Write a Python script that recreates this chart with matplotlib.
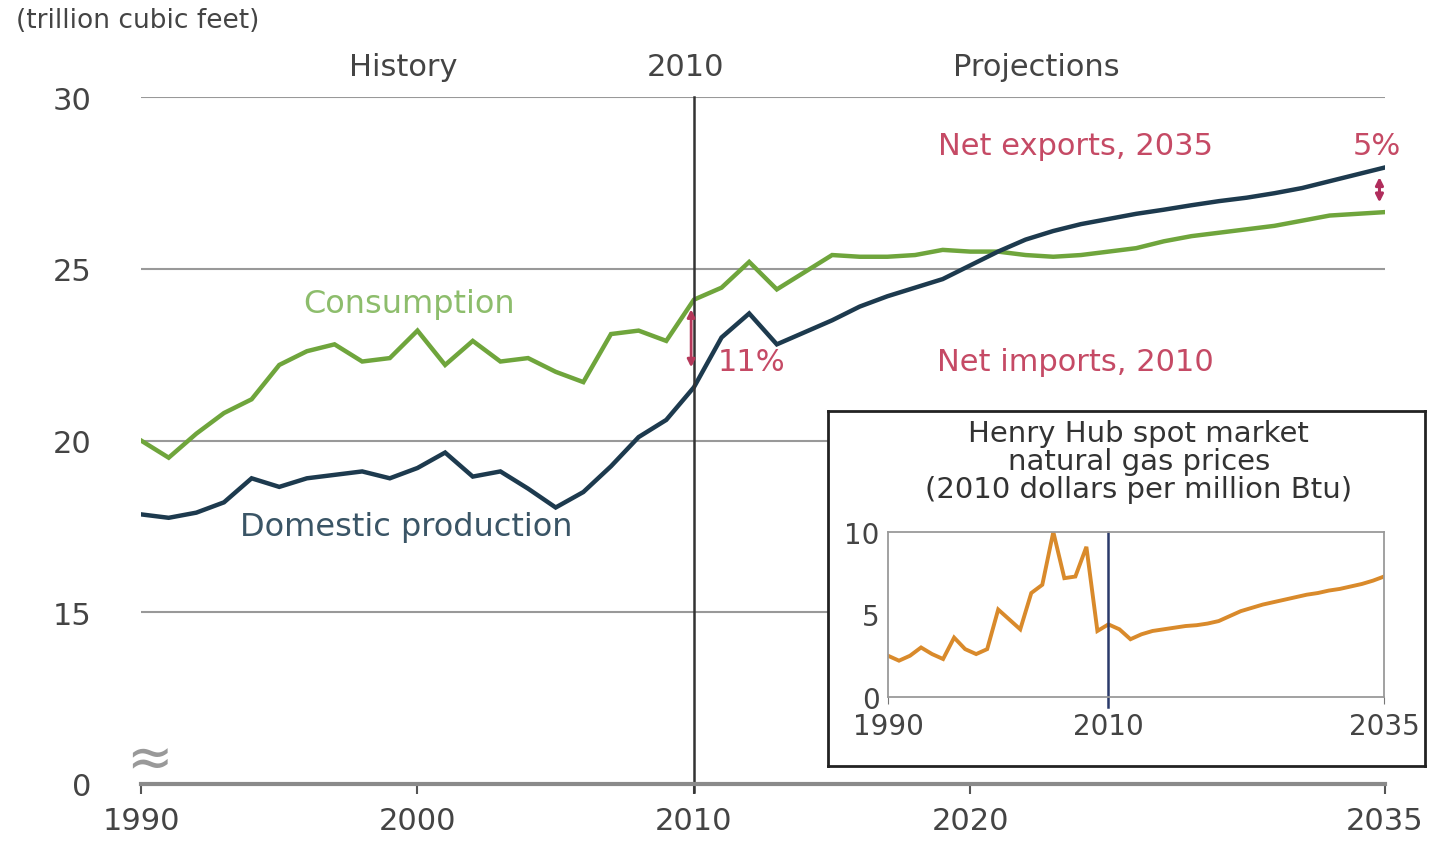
import matplotlib.pyplot as plt

# Datos (trillion cubic feet)
years = list(range(1990, 2036))
consumption = [20.0, 19.5, 20.2, 20.8, 21.2, 22.2, 22.6, 22.8, 22.3, 22.4,
               23.2, 22.2, 22.9, 22.3, 22.4, 22.0, 21.7, 23.1, 23.2, 22.9,
               24.1, 24.45, 25.2, 24.4, 24.9, 25.4, 25.35, 25.35, 25.4, 25.55,
               25.5, 25.5, 25.4, 25.35, 25.4, 25.5, 25.6, 25.8, 25.95, 26.05,
               26.15, 26.25, 26.4, 26.55, 26.6, 26.65]
production = [17.85, 17.75, 17.9, 18.2, 18.9, 18.65, 18.9, 19.0, 19.1, 18.9,
              19.2, 19.65, 18.95, 19.1, 18.6, 18.05, 18.5, 19.25, 20.1, 20.6,
              21.55, 23.0, 23.7, 22.8, 23.15, 23.5, 23.9, 24.2, 24.45, 24.7,
              25.1, 25.5, 25.85, 26.1, 26.3, 26.45, 26.6, 26.72, 26.85, 26.97,
              27.07, 27.2, 27.35, 27.55, 27.75, 27.95]
# Henry Hub (2010 dollars per million Btu)
price = [2.5, 2.2, 2.5, 3.0, 2.6, 2.3, 3.6, 2.9, 2.6, 2.9,
         5.3, 4.7, 4.1, 6.3, 6.8, 10.0, 7.2, 7.3, 9.1, 4.0,
         4.4, 4.1, 3.5, 3.8, 4.0, 4.1, 4.2, 4.3, 4.35, 4.45,
         4.6, 4.9, 5.2, 5.4, 5.6, 5.75, 5.9, 6.05, 6.2, 6.3,
         6.45, 6.55, 6.7, 6.85, 7.05, 7.3]
x_ticks = [1990, 2000, 2010, 2020, 2035]
y_ticks = [10, 15, 20, 25, 30]
y_labels = ["0", "15", "20", "25", "30"]
inset_x_ticks = [1990, 2010, 2035]
inset_y_ticks = [0, 5, 10]

verde = "#6fa53c"
azul = "#1d3a4e"
rojo = "#c54a65"
naranja = "#d98a2b"
gris = "#999999"

fig = plt.figure(figsize=(14.29, 8.54), dpi=100)
ax = fig.add_axes([0.0987, 0.0808, 0.8705, 0.8044])

# Líneas principales
ax.plot(years, consumption, color=verde, lw=3.2, solid_joinstyle="miter")
ax.plot(years, production, color=azul, lw=3.2, solid_joinstyle="miter")
ax.axvline(2010, color="#333333", lw=1.8, ymin=-0.012, clip_on=False)

ax.set_xlim(1990, 2035)
ax.set_ylim(10, 30)
ax.set_yticks(y_ticks)
ax.set_yticklabels(y_labels)
ax.set_xticks(x_ticks)
for y in y_ticks[1:]:
    ax.axhline(y, color=gris, lw=1.5, zorder=0)
for s in ["top", "right", "left"]:
    ax.spines[s].set_visible(False)
ax.spines["bottom"].set_color("#8a8a8a")
ax.spines["bottom"].set_linewidth(3)
ax.tick_params(axis="y", length=0, pad=36, labelsize=22, labelcolor="#444444")
ax.tick_params(axis="x", length=7, width=1.5, color="#555555", pad=9,
               labelsize=22, labelcolor="#444444")

# Símbolo de eje cortado
ax.text(1990.3, 10.7, "≈", fontsize=40, color="#999999", ha="center", va="center",
        clip_on=False)

# Encabezados
ax.text(1999.5, 30.9, "History", fontsize=22, color="#444444", ha="center", va="center")
ax.text(2009.7, 30.9, "2010", fontsize=22, color="#444444", ha="center", va="center")
ax.text(2022.4, 30.9, "Projections", fontsize=22, color="#444444", ha="center", va="center")
fig.text(0.011, 0.975, "(trillion cubic feet)", fontsize=19, color="#444444",
         ha="left", va="center")

# Etiquetas de series
ax.text(1999.7, 24.0, "Consumption", fontsize=23, color="#8dbd6c", ha="center", va="center")
ax.text(1999.6, 17.5, "Domestic production", fontsize=23, color="#3a5566",
        ha="center", va="center")

# Flechas de importaciones / exportaciones netas
i10 = years.index(2010)
i35 = years.index(2035)
ax.annotate("", xy=(2009.9, production[i10] + 0.5), xytext=(2009.9, consumption[i10] - 0.2),
            arrowprops=dict(arrowstyle="<|-|>", color="#b5385a", lw=2, mutation_scale=11))
ax.annotate("", xy=(2034.8, production[i35] - 0.2), xytext=(2034.8, consumption[i35] + 0.2),
            arrowprops=dict(arrowstyle="<|-|>", color="#b02d5c", lw=2.2, mutation_scale=11))
ax.text(2023.8, 28.6, "Net exports, 2035", fontsize=22, color=rojo, ha="center", va="center")
ax.text(2034.7, 28.6, "5%", fontsize=22, color=rojo, ha="center", va="center")
ax.text(2023.8, 22.3, "Net imports, 2010", fontsize=22, color=rojo, ha="center", va="center")
ax.text(2010.85, 22.3, "11%", fontsize=22, color=rojo, ha="left", va="center")

# Recuadro del gráfico insertado
caja = fig.add_axes([0.5794, 0.1019, 0.4178, 0.4157])
caja.set_xticks([])
caja.set_yticks([])
for s in caja.spines.values():
    s.set_color("#222222")
    s.set_linewidth(2)
caja.set_facecolor("white")
fig.text(0.797, 0.459, "Henry Hub spot market\nnatural gas prices\n(2010 dollars per million Btu)",
         fontsize=21, color="#333333", ha="center", va="center", linespacing=0.98)

ins = fig.add_axes([0.6214, 0.1827, 0.3471, 0.1932])
ins.plot(years, price, color=naranja, lw=2.8, solid_joinstyle="miter")
ins.axvline(2010, color="#2b3a6b", lw=1.8, ymin=-0.06, clip_on=False)
ins.set_xlim(1990, 2035)
ins.set_ylim(0, 10)
ins.set_xticks(inset_x_ticks)
ins.set_yticks(inset_y_ticks)
for s in ins.spines.values():
    s.set_color("#9a9a9a")
    s.set_linewidth(1.3)
ins.tick_params(axis="y", length=0, pad=6, labelsize=20, labelcolor="#444444")
ins.tick_params(axis="x", length=5, color="#777777", pad=6, labelsize=20,
                labelcolor="#444444")

plt.savefig("out.png", dpi=100)
